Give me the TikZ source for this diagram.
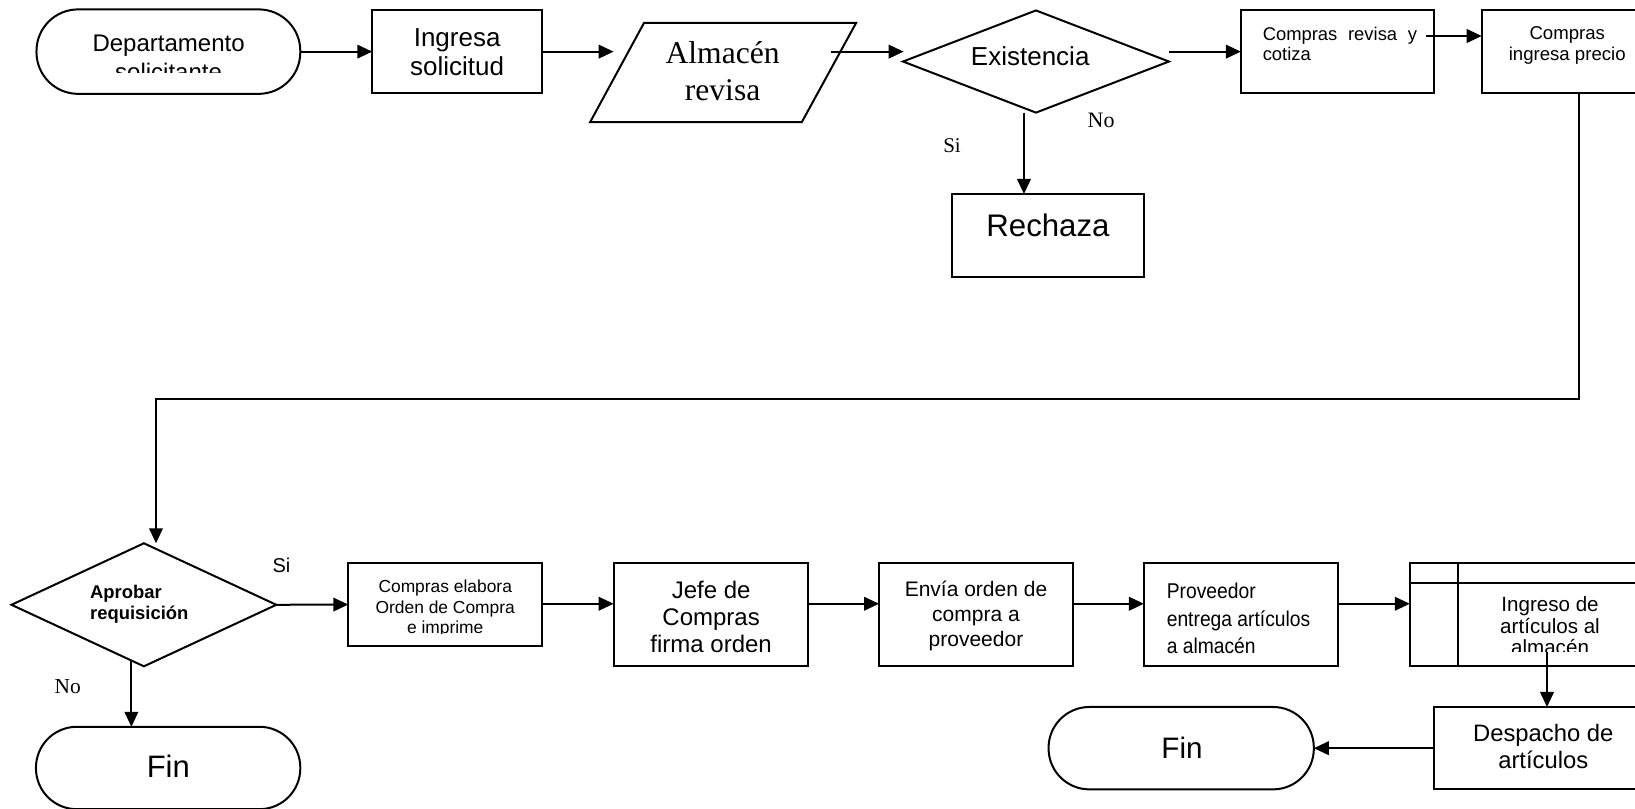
\documentclass[tikz,border=0pt]{standalone}
\usepackage{fontspec}
\setmainfont{Liberation Sans}
\newfontfamily\serifface{Liberation Serif}
\newfontfamily\narrowface[FakeStretch=0.9]{Liberation Sans}
\usetikzlibrary{arrows.meta,shapes.geometric}
\def\uu{0.52136pt}
\begin{document}
\begin{tikzpicture}[x=0.52136pt,y=-0.52136pt,
  shp/.style={draw, line width=1pt, inner sep=0pt, outer sep=0pt},
  boxs/.style={shp, rectangle},
  term/.style={shp, rectangle, rounded corners=20.4pt},
  decision/.style={shp, diamond},
  arr/.style={line width=1pt, -{Triangle[length=7.5pt,width=6.8pt]}},
  ln/.style={line width=1pt},
  txt/.style={inner sep=0pt, outer sep=0pt, align=center}]
\useasboundingbox (0,0) rectangle (1568,775);
\clip (0,0) rectangle (1568,775);
\fill[white] (0,0) rectangle (1568,775);

% ---------- shapes, top row
\node[term, rounded corners=20.8pt, minimum width=253*\uu, minimum height=81*\uu] (t1) at (161.5,49.5) {};
\node[boxs, minimum width=163*\uu, minimum height=79*\uu] (b1) at (438.5,49.5) {};
\draw[ln] (617.6,22) -- (821,22) -- (769,117) -- (566,117) -- cycle;
\node[decision, minimum width=255*\uu, minimum height=98*\uu] (d1) at (993.5,59) {};
\node[boxs, minimum width=185*\uu, minimum height=79*\uu] (b2) at (1282.5,49.5) {};
\node[boxs, minimum width=163*\uu, minimum height=79*\uu] (b3) at (1502.5,49.5) {};
\node[boxs, minimum width=184*\uu, minimum height=79.5*\uu] (r) at (1005,225.75) {};

% ---------- shapes, bottom row
\node[decision, minimum width=254*\uu, minimum height=118*\uu] (d2) at (138,580) {};
\node[boxs, minimum width=186*\uu, minimum height=79.5*\uu] (b4) at (427,579.75) {};
\node[boxs, minimum width=186*\uu, minimum height=99*\uu] (b5) at (681.5,589.5) {};
\node[boxs, minimum width=186*\uu, minimum height=99*\uu] (b6) at (936,589.5) {};
\node[boxs, minimum width=186*\uu, minimum height=99*\uu] (b7) at (1190,589.5) {};
\node[boxs, minimum width=228*\uu, minimum height=99*\uu] (b8) at (1466,589.5) {};
\draw[ln] ([xshift=46*\uu]b8.north west) -- ([xshift=46*\uu]b8.south west);
\draw[ln] ([yshift=-19*\uu]b8.north west) -- ([yshift=-19*\uu]b8.north east);
\node[boxs, minimum width=210*\uu, minimum height=79*\uu] (b9) at (1480,717.5) {};
\node[term, minimum width=254.4*\uu, minimum height=79*\uu] (t3) at (1132.8,717.5) {};
\node[term, minimum width=253.5*\uu, minimum height=79*\uu] (t2) at (161.25,736.5) {};

% ---------- texts, top row
\begin{scope}
  \clip (35,9) rectangle (288,69.7);
  \node[txt, anchor=north, font=\fontsize{12pt}{14.3pt}\selectfont] (t1t) at (161.7,33.6) {Departamento\\solicitante};
\end{scope}
\node[txt, anchor=north, font=\fontsize{13pt}{14.6pt}\selectfont] (b1t) at (438.4,27.2) {Ingresa\\solicitud};
\node[txt, anchor=north, font=\serifface\fontsize{15.8pt}{18.25pt}\selectfont] (pt) at (693,40) {Almacén\\revisa};
\node[txt, font=\fontsize{13pt}{15pt}\selectfont] (d1t) at (988,53.7) {Existencia};
\node[txt, anchor=north west, align=left, font=\fontsize{9.2pt}{10.4pt}\selectfont] (b2t) at (1211,25.6) {\makebox[77.2pt][s]{Compras revisa y}\\cotiza};
\node[txt, anchor=north, font=\fontsize{9.3pt}{10.4pt}\selectfont] (b3t) at (1503,25.6) {Compras\\ingresa precio};
\node[txt, font=\fontsize{15.6pt}{18pt}\selectfont] (rt) at (1005,216) {Rechaza};
\node[txt, font=\serifface\fontsize{10.5pt}{12pt}\selectfont] (si1) at (913,139.7) {Si};
\node[txt, font=\serifface\fontsize{11pt}{12pt}\selectfont] (no1) at (1056,115) {No};

% ---------- texts, bottom row
\node[txt, anchor=north west, align=left, font=\bfseries\fontsize{9.2pt}{10.4pt}\selectfont] (d2t) at (86.5,561) {Aprobar\\requisición};
\node[txt, font=\fontsize{10pt}{12pt}\selectfont] (si2) at (270,542) {Si};
\node[txt, font=\serifface\fontsize{10.7pt}{12pt}\selectfont] (no2) at (65,658) {No};
\begin{scope}
  \clip (334,540) rectangle (520,608);
  \node[txt, anchor=north, font=\fontsize{8.7pt}{10.4pt}\selectfont] (b4t) at (427,556) {Compras elabora\\Orden de Compra\\e imprime};
\end{scope}
\node[txt, anchor=north, font=\fontsize{12pt}{13.45pt}\selectfont] (b5t) at (682,557.5) {Jefe de\\Compras\\firma orden};
\node[txt, anchor=north, font=\fontsize{10.5pt}{12.5pt}\selectfont] (b6t) at (936,557) {Envía orden de\\compra a\\proveedor};
\node[txt, anchor=north west, align=left, font=\narrowface\fontsize{10.7pt}{13.7pt}\selectfont] (b7t) at (1119,559.4) {Proveedor\\entrega artículos\\a almacén};
\begin{scope}
  \clip (1398,559) rectangle (1580,625);
  \node[txt, anchor=north, font=\fontsize{10.3pt}{10.8pt}\selectfont] (b8t) at (1486.5,572.2) {Ingreso de\\artículos al\\almacén};
\end{scope}
\node[txt, anchor=north, font=\fontsize{11.9pt}{13.5pt}\selectfont] (b9t) at (1480,695) {Despacho de\\artículos};
\node[txt, font=\fontsize{14.8pt}{16pt}\selectfont] (t3t) at (1133.6,717) {Fin};
\node[txt, font=\fontsize{15.5pt}{17pt}\selectfont] (t2t) at (161.4,734.6) {Fin};

% ---------- connector end points
\coordinate (pin) at (588.5,49.5);
\coordinate (pout) at (797,49.5);
\coordinate (d1in) at (866.6,49.5);
\coordinate (d1out) at (1121,49.5);
\coordinate (b2out) at (1367.6,34.5);
\coordinate (c1) at (1514,382.7);
\coordinate (c2) at (149.6,382.7);
\coordinate (rs) at (982,108);
\coordinate (rowy) at (0,579);
\coordinate (b8o) at (1483.6,625);
\coordinate (d2o) at (126,633);

% ---------- connectors
\draw[arr] (t1.east) -- (b1.west);
\draw[arr] (b1.east) -- (pin);
\draw[arr] (pout) -- (d1in);
\draw[arr] (d1out) -- (b2.west);
\draw[arr] (b2out) -- (b2out -| b3.west);
\draw[arr] (b3.south -| c1) -- (c1) -- (c2) -- (c2 |- d2.north);
\draw[arr] (rs) -- (rs |- r.north);
\draw[arr] (d2.east) -- (b4.west);
\draw[arr] (b4.east |- rowy) -- (b5.west |- rowy);
\draw[arr] (b5.east |- rowy) -- (b6.west |- rowy);
\draw[arr] (b6.east |- rowy) -- (b7.west |- rowy);
\draw[arr] (b7.east |- rowy) -- (b8.west |- rowy);
\draw[arr] (b8o) -- (b8o |- b9.north);
\draw[arr] (b9.west) -- (t3.east);
\draw[arr] (d2o) -- (d2o |- t2.north);
\end{tikzpicture}
\end{document}
